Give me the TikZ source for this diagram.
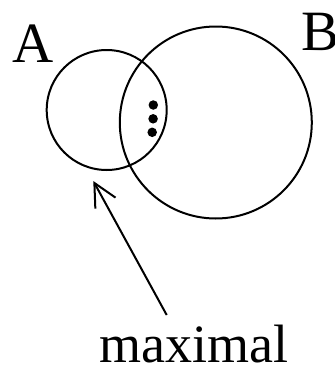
\documentclass[tikz,border=0pt]{standalone}
\usepackage{fontspec}
\setmainfont{Liberation Serif}
\usetikzlibrary{arrows.meta}
\begin{document}
\begin{tikzpicture}[x=1pt,y=-1pt,
  setcircle/.style={draw,circle,line width=2pt,inner sep=0pt},
  biglabel/.style={inner sep=0pt,anchor=base west,font=\fontsize{57}{60}\selectfont},
  wordlabel/.style={inner sep=0pt,anchor=base west,font=\fontsize{54}{60}\selectfont},
  dotmark/.style={fill,circle,inner sep=0pt,minimum size=9.5pt},
  pointer/.style={line width=2pt,-{Straight Barb[length=23pt,width=23pt,line width=2pt]}}]
\useasboundingbox (0,0) rectangle (335,365);
\node[setcircle,minimum size=120pt] (cA) at (106.7,110) {};
\node[setcircle,minimum size=192pt] (cB) at (215.8,122.5) {};
\node[dotmark] (d1) at (153.3,105) {};
\node[dotmark] (d2) at (153.1,118.8) {};
\node[dotmark] (d3) at (152.2,132.3) {};
\node[biglabel] (lA) at (12.5,62.7) {A};
\node[biglabel] (lB) at (301.5,50) {B};
\node[wordlabel] (lmax) at (99.5,362.5) {maximal};
\coordinate (tail) at (166.7,315);
\coordinate (tip) at (93.3,181);
\draw[pointer] (tail) -- (tip);
\end{tikzpicture}
\end{document}
